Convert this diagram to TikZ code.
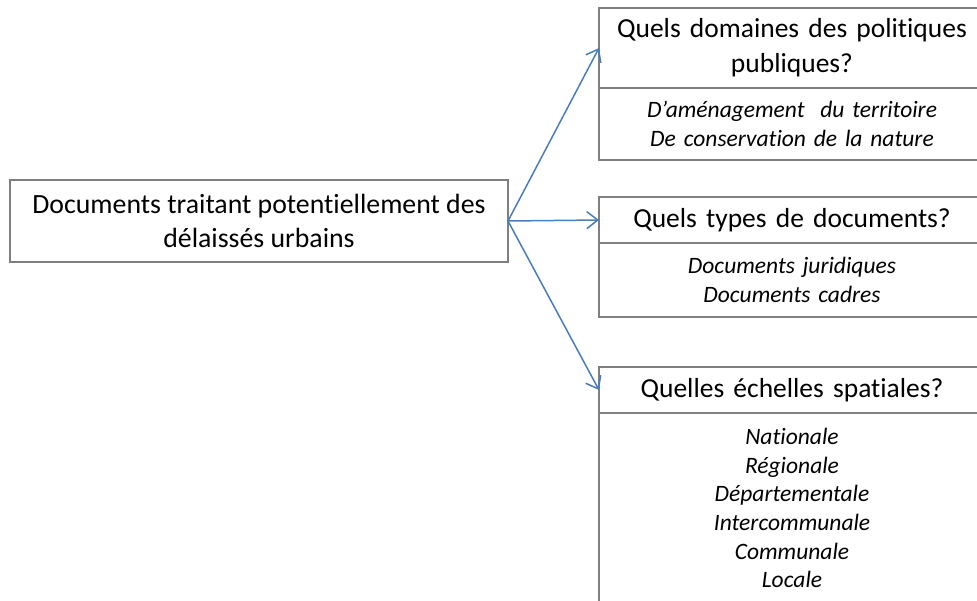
\documentclass[tikz,border=0pt]{standalone}
\usepackage{fontspec}
\setmainfont{Carlito}[Ligatures=NoCommon]
\usetikzlibrary{positioning,arrows.meta}
\definecolor{bordgris}{HTML}{7F7F7F}
\definecolor{flechebleu}{HTML}{4A7EBB}

\begin{document}
\begin{tikzpicture}[x=1pt, y=1pt,
    boite/.style={draw=bordgris, line width=1.8pt, fill=white, align=center,
      inner sep=0pt, outer sep=0pt},
    titre/.style={boite, font=\fontsize{27.5}{35}\selectfont,
      minimum width=386pt, text width=380pt},
    liste/.style={boite, font=\fontsize{23.5}{28.7}\selectfont\itshape,
      minimum width=386pt, text width=380pt},
    fleche/.style={draw=flechebleu, line width=1.5pt,
      -{Straight Barb[length=11pt, width=17pt, line width=1.5pt]}}]
				% Cadre de la page (les boites de droite sont coupees)
				\useasboundingbox (0, 0) rectangle (977, -600);
				\clip (0, 0) rectangle (977, -600);
				
				% Boite de depart
				\node[boite, anchor=north west, minimum width=498pt, minimum height=82pt,
				  font=\fontsize{27.8}{34}\selectfont] (docs) at (10, -180)
				  {Documents traitant potentiellement des\\ délaissés urbains};
				
				% Questions et reponses
				\node[titre, anchor=north west, minimum height=80pt] (domaines) at (599, -8)
				  {Quels domaines des politiques\\ publiques?};
				\node[liste, below=0pt of domaines, minimum height=72pt] (domainesrep)
				  {D’aménagement~ du territoire\\ De conservation de la nature};
				
				\node[titre, below=37pt of domainesrep, minimum height=46pt] (types)
				  {Quels types de documents?};
				\node[liste, below=0pt of types, minimum height=74pt] (typesrep)
				  {Documents juridiques\\ Documents cadres};
				
				\node[titre, below=50pt of typesrep, minimum height=46pt] (echelles)
				  {Quelles échelles spatiales?};
				\node[liste, below=0pt of echelles, minimum height=190pt] (echellesrep)
				  {Nationale\\ Régionale\\ Départementale\\ Intercommunale\\ Communale\\ Locale};
				
				% Fleches
				\draw[fleche] (docs.east) -- (domaines.west);
				\draw[fleche] (docs.east) -- (types.west);
				\draw[fleche] (docs.east) -- (echelles.west);
\end{tikzpicture}
\end{document}
